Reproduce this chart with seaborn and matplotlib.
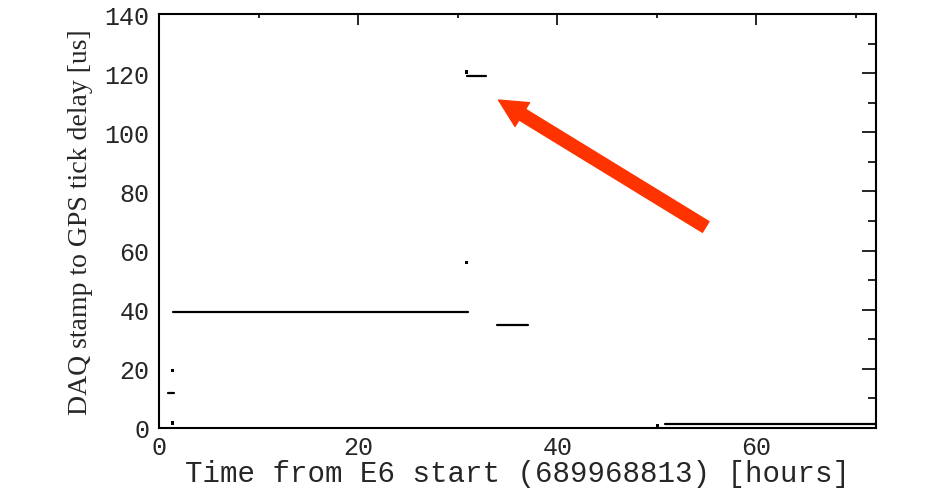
import numpy as np
import pandas as pd
import matplotlib.pyplot as plt
import seaborn as sns
from matplotlib.ticker import MultipleLocator

# flat segments of the delay trace (hours start/end, delay in us)
seg_start = [1.4, 0.9, 30.9, 33.9, 50.8]
seg_end = [31.0, 1.5, 32.8, 37.1, 72.0]
seg_delay = [39.1, 11.8, 119.0, 34.8, 1.35]

# isolated samples
dot_hours = [1.4, 1.35, 30.9, 30.9, 50.1]
dot_delay = [19.3, 1.7, 56.1, 120.4, 0.7]

x_ticks = [0, 20, 40, 60]
y_ticks = [0, 20, 40, 60, 80, 100, 120, 140]

rows = []
for i in range(len(seg_start)):
    rows.append({'hours': seg_start[i], 'delay': seg_delay[i], 'seg': i})
    rows.append({'hours': seg_end[i], 'delay': seg_delay[i], 'seg': i})
segs = pd.DataFrame(rows)
dots = pd.DataFrame({'hours': dot_hours, 'delay': dot_delay})

sns.set_style('white')
plt.rcParams['font.family'] = ['Liberation Mono', 'DejaVu Sans Mono']

fig = plt.figure(figsize=(9.32, 4.89), dpi=100)
ax = fig.add_axes([0.1706, 0.1227, 0.7693, 0.8466])

sns.lineplot(data=segs, x='hours', y='delay', units='seg', estimator=None,
             color='black', linewidth=1.6, ax=ax, legend=False)
sns.scatterplot(data=dots, x='hours', y='delay', color='black', s=5,
                marker='s', edgecolor='none', ax=ax, legend=False)

ax.set_xlim(0, 72)
ax.set_ylim(0, 140)
ax.set_xticks(x_ticks)
ax.set_yticks(y_ticks)
ax.xaxis.set_minor_locator(MultipleLocator(10))
ax.yaxis.set_minor_locator(MultipleLocator(10))
ax.tick_params(which='both', direction='in', top=True, right=True,
               width=1.2, color='black')
ax.tick_params(axis='x', which='major', length=8, labelsize=18, pad=5)
ax.tick_params(axis='x', which='minor', length=3)
ax.tick_params(axis='y', which='major', length=10, labelsize=18, pad=7)
ax.tick_params(axis='y', which='minor', length=6)
for sp in ax.spines.values():
    sp.set_visible(True)
    sp.set_linewidth(1.5)
    sp.set_color('black')

ax.set_xlabel('Time from E6 start (689968813) [hours]', fontsize=21,
              labelpad=0)
ax.set_ylabel('DAQ stamp to GPS tick delay [us]', fontsize=20,
              family='Liberation Serif', labelpad=8)

ax.annotate('', xy=(34.1, 110.9), xytext=(54.9, 68.0),
            arrowprops=dict(arrowstyle='simple,head_length=2.0,head_width=2.0,tail_width=0.9',
                            mutation_scale=10, color='#ff3300',
                            shrinkA=0, shrinkB=0))

fig.savefig('out.png', dpi=100)
